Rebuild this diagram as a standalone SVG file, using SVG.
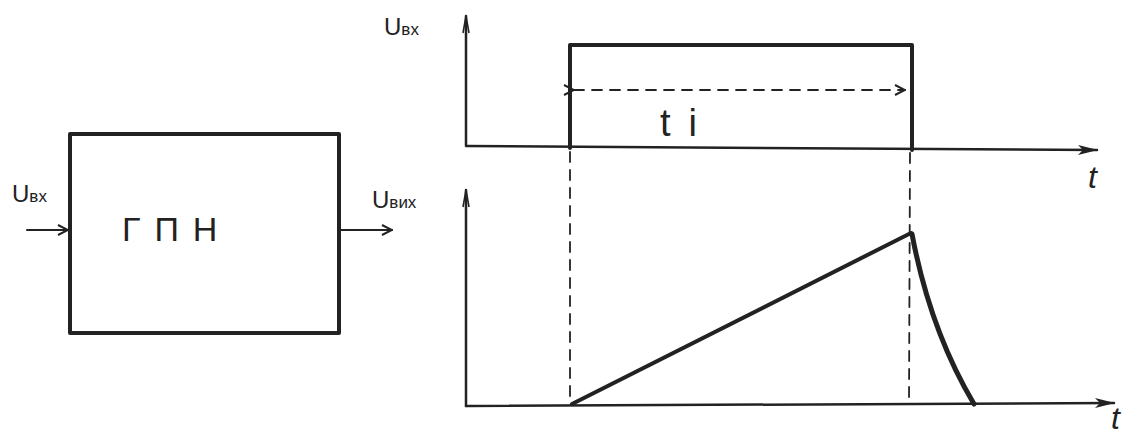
<svg xmlns="http://www.w3.org/2000/svg" width="1127" height="439" viewBox="0 0 1127 439">
<defs>
<style>
.ln{stroke:#222;fill:none;stroke-linecap:round;stroke-linejoin:round}
.ax{stroke-width:2.5}
.thick{stroke-width:4}
.dash{stroke-width:1.8;stroke-dasharray:10 8}
.lbl{font-family:"Liberation Sans","DejaVu Sans",sans-serif;fill:#222}
</style>
<marker id="open" viewBox="0 0 12 12" refX="11" refY="6" markerWidth="12" markerHeight="12" markerUnits="userSpaceOnUse" orient="auto">
<path d="M1,1 L11,6 L1,11" fill="none" stroke="#222" stroke-width="2"/>
</marker>
<marker id="sharp" viewBox="0 0 20 12" refX="19" refY="6" markerWidth="22" markerHeight="12" markerUnits="userSpaceOnUse" orient="auto">
<path d="M0,1 L20,6 L0,11 L5,6 Z" fill="#222"/>
</marker>
<marker id="up" viewBox="0 0 8 20" refX="4" refY="1" markerWidth="8" markerHeight="20" markerUnits="userSpaceOnUse" orient="0">
<path d="M1,18 L4,1 L7,18" fill="none" stroke="#222" stroke-width="1.6"/>
</marker>
</defs>
<rect width="1127" height="439" fill="#fff"/>

<g id="block">
<rect x="70" y="134" width="269" height="199" class="ln thick"/>
<text x="122" y="241" class="lbl" font-size="34" letter-spacing="14">ГПН</text>
</g>

<g id="labels">
<text x="12" y="202" class="lbl" font-size="24">U<tspan font-size="17">вх</tspan></text>
<text x="372" y="208" class="lbl" font-size="24">U<tspan font-size="17">вих</tspan></text>
<text x="384" y="35" class="lbl" font-size="24">U<tspan font-size="17">вх</tspan></text>
<text x="660" y="136" class="lbl" font-size="38" letter-spacing="18">ti</text>
<text x="1088" y="188" class="lbl" font-size="32" font-style="italic">t</text>
<text x="1111" y="429" class="lbl" font-size="32" font-style="italic">t</text>
</g>

<g id="connectors">
<line x1="27" y1="230" x2="68" y2="230" class="ln" stroke-width="2" marker-end="url(#open)"/>
<line x1="341" y1="230" x2="392" y2="230" class="ln" stroke-width="2" marker-end="url(#open)"/>
</g>

<g id="graph-top">
<line x1="466" y1="145" x2="466" y2="16" class="ln ax" marker-end="url(#up)"/>
<line x1="466" y1="146" x2="1097" y2="150" class="ln ax" marker-end="url(#sharp)"/>
<path d="M570,148 L570,45 L912,45 L912,150" class="ln thick"/>
<line x1="574" y1="90" x2="905" y2="90" class="ln dash" marker-start="url(#open)" marker-end="url(#open)"/>
</g>

<g id="graph-bottom">
<line x1="466" y1="406" x2="466" y2="190" class="ln ax" marker-end="url(#up)"/>
<line x1="466" y1="406" x2="1114" y2="403" class="ln ax" marker-end="url(#sharp)"/>
<line x1="570" y1="152" x2="570" y2="404" class="ln dash"/>
<line x1="910" y1="153" x2="909" y2="404" class="ln dash"/>
<path d="M572,404 L911,233" class="ln thick"/>
<path d="M912,234 Q930,330 974,404" class="ln" stroke-width="5"/>
</g>
</svg>
